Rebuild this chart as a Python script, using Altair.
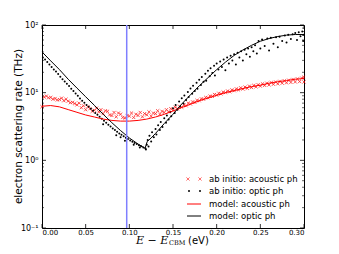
import altair as alt
import pandas as pd

W, H = 262, 203

# ---------------- data ----------------
x_ticks = [0.00, 0.05, 0.10, 0.15, 0.20, 0.25, 0.30]
y_major = [0.1, 1, 10, 100]
y_labels = ["10⁻¹", "10⁰", "10¹", "10²"]
y_minor = [0.2, 0.3, 0.4, 0.5, 0.6, 0.7, 0.8, 0.9,
           2, 3, 4, 5, 6, 7, 8, 9,
           20, 30, 40, 50, 60, 70, 80, 90]
cbm_E = [0.097]

# ab initio acoustic (two interleaved rows of points)
ac_a_E = [0.000, 0.005, 0.010, 0.015, 0.020, 0.025, 0.030, 0.035, 0.040, 0.045,
          0.050, 0.055, 0.060, 0.065, 0.070, 0.075, 0.080, 0.085, 0.090, 0.095,
          0.100, 0.105, 0.110, 0.115, 0.120, 0.125, 0.130, 0.135, 0.140, 0.145,
          0.150, 0.155, 0.160, 0.165, 0.170, 0.175, 0.180, 0.185, 0.190, 0.195,
          0.200, 0.205, 0.210, 0.215, 0.220, 0.225, 0.230, 0.235, 0.240, 0.245,
          0.250, 0.255, 0.260, 0.265, 0.270, 0.275, 0.280, 0.285, 0.290, 0.295, 0.300]
ac_a_v = [6.2, 8.9, 8.5, 8.2, 7.9, 7.6, 7.5, 7.2, 6.6, 6.0,
          5.6, 5.8, 5.5, 5.2, 4.9, 5.3, 4.6, 4.4, 4.8, 4.2,
          4.5, 4.3, 4.6, 4.4, 4.7, 4.5, 4.9, 4.8, 5.1, 5.2,
          5.5, 5.8, 6.1, 6.4, 6.8, 7.2, 7.6, 8.0, 8.4, 8.8,
          9.2, 9.6, 10.0, 10.3, 10.7, 11.0, 11.3, 11.6, 11.9, 12.2,
          12.5, 12.8, 13.0, 13.3, 13.5, 13.8, 14.0, 14.2, 14.4, 14.6, 14.4]
ac_b_E = [0.0025, 0.0075, 0.0125, 0.0175, 0.0225, 0.0275, 0.0325, 0.0375, 0.0425, 0.0475,
          0.0525, 0.0575, 0.0625, 0.0675, 0.0725, 0.0775, 0.0825, 0.0875, 0.0925, 0.0975,
          0.1025, 0.1075, 0.1125, 0.1175, 0.1225, 0.1275, 0.1325, 0.1375, 0.1425, 0.1475,
          0.1525, 0.1575, 0.1625, 0.1675, 0.1725, 0.1775, 0.1825, 0.1875, 0.1925, 0.1975,
          0.2025, 0.2075, 0.2125, 0.2175, 0.2225, 0.2275, 0.2325, 0.2375, 0.2425, 0.2475,
          0.2525, 0.2575, 0.2625, 0.2675, 0.2725, 0.2775, 0.2825, 0.2875, 0.2925, 0.2975, 0.2995]
ac_b_v = [8.6, 8.4, 8.0, 7.8, 8.3, 8.0, 7.1, 6.9, 7.0, 6.4,
          6.2, 5.3, 5.9, 5.6, 5.4, 4.7, 5.1, 5.0, 4.3, 4.6,
          5.0, 4.8, 5.1, 4.9, 5.2, 5.0, 5.4, 5.3, 5.6, 5.8,
          6.1, 6.3, 6.6, 7.0, 7.3, 7.7, 8.1, 8.5, 8.9, 9.4,
          9.8, 10.2, 10.6, 11.0, 11.4, 11.8, 12.1, 12.5, 12.8, 13.1,
          13.5, 13.8, 14.1, 14.4, 14.7, 15.0, 15.3, 15.7, 16.0, 16.4, 17.0]

# ab initio optic
op_E = [0.001, 0.0035, 0.006, 0.0085, 0.011, 0.0135, 0.016, 0.0185, 0.021, 0.0235,
        0.026, 0.0285, 0.031, 0.0335, 0.036, 0.0385, 0.041, 0.0435, 0.046, 0.0485,
        0.051, 0.0535, 0.056, 0.0585, 0.061, 0.0635, 0.066, 0.0685, 0.071, 0.0735,
        0.076, 0.0785, 0.081, 0.0835, 0.086, 0.0885, 0.091, 0.0935, 0.096, 0.0985,
        0.101, 0.1035, 0.106, 0.1085, 0.111, 0.1135, 0.116, 0.1185,
        0.070, 0.085, 0.090, 0.095, 0.105, 0.112,
        0.119, 0.120, 0.121, 0.122, 0.123, 0.125, 0.126, 0.128, 0.130, 0.131,
        0.133, 0.135, 0.136, 0.138, 0.140, 0.142, 0.143, 0.145, 0.147, 0.148,
        0.150, 0.152, 0.153, 0.155, 0.157, 0.158, 0.160, 0.162, 0.163, 0.165,
        0.167, 0.168, 0.170, 0.172, 0.173, 0.175, 0.177, 0.178, 0.180, 0.182,
        0.183, 0.185, 0.187, 0.188, 0.190, 0.192, 0.193, 0.195, 0.197, 0.198,
        0.200, 0.202, 0.204, 0.206, 0.208, 0.210, 0.212, 0.214, 0.216, 0.218,
        0.220, 0.222, 0.224, 0.226, 0.228, 0.230, 0.232, 0.234, 0.236, 0.238,
        0.240, 0.242, 0.244, 0.246, 0.248, 0.250, 0.252, 0.255, 0.258, 0.260,
        0.262, 0.265, 0.268, 0.270, 0.272, 0.275, 0.278, 0.280, 0.282, 0.285,
        0.287, 0.290, 0.292, 0.294, 0.296, 0.298, 0.300, 0.299]
op_v = [33, 31, 28.5, 26, 24, 22, 20.5, 18.8, 17.2, 15.8,
        14.6, 13.5, 12.5, 11.4, 10.6, 9.7, 9.0, 8.2, 7.6, 7.1,
        6.6, 6.2, 5.8, 5.4, 5.0, 4.7, 4.4, 4.1, 3.85, 3.6,
        3.35, 3.15, 2.95, 2.8, 2.65, 2.5, 2.38, 2.27, 2.16, 2.06,
        1.97, 1.89, 1.81, 1.74, 1.67, 1.61, 1.55, 1.49,
        3.4, 2.35, 2.2, 1.95, 1.7, 1.55,
        1.45, 1.7, 2.0, 1.6, 2.3, 1.9, 2.6, 2.2, 2.9, 2.4,
        3.3, 2.8, 3.7, 3.1, 4.2, 3.6, 4.6, 4.0, 5.2, 4.5,
        5.9, 5.0, 6.6, 5.6, 7.4, 6.2, 8.3, 6.9, 9.1, 7.8,
        10.2, 8.6, 11.5, 9.6, 12.6, 10.6, 14.0, 11.4, 15.5, 13.0,
        17.0, 14.5, 19.0, 15.0, 21.0, 17.5, 23.0, 19.5, 25.0, 18.0,
        27.0, 22.0, 29.0, 24.0, 31.0, 21.5, 33.0, 27.0, 35.0, 30.0,
        37.0, 26.0, 39.0, 33.0, 41.0, 30.0, 43.0, 37.0, 45.0, 34.0,
        47.0, 41.0, 50.0, 38.0, 58.0, 45.0, 61.0, 49.0, 63.0, 42.0,
        65.0, 53.0, 66.0, 47.0, 67.0, 58.0, 70.0, 55.0, 72.0, 62.0,
        73.0, 76.0, 60.0, 78.0, 68.0, 80.0, 72.0, 58.0]

# model curves
mac_E = [0.00, 0.01, 0.02, 0.03, 0.04, 0.05, 0.06, 0.07, 0.08, 0.09,
         0.10, 0.11, 0.12, 0.13, 0.14, 0.15, 0.16, 0.17, 0.18, 0.19,
         0.20, 0.21, 0.22, 0.23, 0.24, 0.25, 0.26, 0.27, 0.28, 0.29, 0.30]
mac_v = [6.3, 6.45, 6.17, 5.62, 5.13, 4.68, 4.37, 4.07, 3.89, 3.80,
         3.80, 3.89, 4.07, 4.37, 4.79, 5.37, 6.03, 6.76, 7.59, 8.32,
         9.12, 10.0, 10.7, 11.5, 12.3, 12.9, 13.8, 14.5, 15.1, 15.8, 16.2]
mop_E = [0.000, 0.010, 0.020, 0.030, 0.040, 0.050, 0.060, 0.070, 0.080, 0.090,
         0.100, 0.110, 0.118, 0.1205, 0.125, 0.130, 0.140, 0.150, 0.160, 0.170,
         0.180, 0.190, 0.200, 0.210, 0.220, 0.230, 0.240, 0.250, 0.260, 0.270,
         0.280, 0.290, 0.300]
mop_v = [40, 29.5, 21.9, 15.8, 11.7, 8.7, 6.5, 4.8, 3.6, 2.75,
         2.14, 1.74, 1.51, 1.9, 2.14, 2.5, 3.5, 4.8, 6.8, 9.3,
         12.6, 16.6, 21.9, 28.2, 35.5, 42.7, 50.1, 57.5, 63.1, 67.6,
         70.8, 72.4, 72.4]

legend_labels = ["ab initio: acoustic ph", "ab initio: optic ph",
                 "model: acoustic ph", "model: optic ph"]

# ---------------- chart ----------------
FONT = "DejaVu Sans"
xs = alt.Scale(domain=[0, 0.3], nice=False, zero=False)
ys = alt.Scale(type="log", domain=[0.1, 100], nice=False)

label_expr = ("datum.value < 0.5 ? '%s' : datum.value < 5 ? '%s' : "
              "datum.value < 50 ? '%s' : '%s'") % tuple(y_labels)

x_axis = alt.Axis(values=x_ticks, format=".2f", title=None, ticks=False, domain=False,
                  grid=False, labelFontSize=7, labelPadding=0.5, labelColor="black",
                  labelFont=FONT)
y_axis = alt.Axis(values=y_major, labelExpr=label_expr, title=None, ticks=False,
                  domain=False, grid=False, labelFontSize=8, labelPadding=4,
                  labelColor="black", labelFont=FONT)


def X():
    return alt.X("E:Q", scale=xs, axis=x_axis)


def Y():
    return alt.Y("v:Q", scale=ys, axis=y_axis)


xpath = "M-1,-1L1,1M-1,1L1,-1"

ac_df = pd.DataFrame({"E": ac_a_E + ac_b_E, "v": ac_a_v + ac_b_v})
ac_pts = alt.Chart(ac_df).mark_point(
    shape=xpath, filled=False, color="#ff0000", size=10, strokeWidth=0.8, opacity=0.85
).encode(x=X(), y=Y())

op_df = pd.DataFrame({"E": op_E, "v": op_v})
op_pts = alt.Chart(op_df).mark_circle(color="black", size=4, opacity=1).encode(x=X(), y=Y())

mac_line = alt.Chart(pd.DataFrame({"E": mac_E, "v": mac_v})).mark_line(
    color="#ff0000", strokeWidth=1).encode(x=X(), y=Y())
mop_line = alt.Chart(pd.DataFrame({"E": mop_E, "v": mop_v})).mark_line(
    color="black", strokeWidth=1).encode(x=X(), y=Y())

vline = alt.Chart(pd.DataFrame({"E": cbm_E})).mark_rule(
    color="#7f7fff", strokeWidth=1.5).encode(x=X())

# inward ticks
xt_df = pd.DataFrame({"E": x_ticks})
ymaj_df = pd.DataFrame({"v": y_major})
ymin_df = pd.DataFrame({"v": y_minor})
tick_layers = [
    alt.Chart(xt_df).mark_rule(color="black", strokeWidth=0.8).encode(
        x=X(), y=alt.value(H), y2=alt.value(H - 4)),
    alt.Chart(xt_df).mark_rule(color="black", strokeWidth=0.8).encode(
        x=X(), y=alt.value(0), y2=alt.value(4)),
    alt.Chart(ymaj_df).mark_rule(color="black", strokeWidth=0.8).encode(
        y=Y(), x=alt.value(0), x2=alt.value(4)),
    alt.Chart(ymaj_df).mark_rule(color="black", strokeWidth=0.8).encode(
        y=Y(), x=alt.value(W), x2=alt.value(W - 4)),
    alt.Chart(ymin_df).mark_rule(color="black", strokeWidth=0.6).encode(
        y=Y(), x=alt.value(0), x2=alt.value(2)),
    alt.Chart(ymin_df).mark_rule(color="black", strokeWidth=0.6).encode(
        y=Y(), x=alt.value(W), x2=alt.value(W - 2)),
]

dummy = pd.DataFrame({"d": [0]})

# legend (manual, matplotlib style)
LX, LT = 145, 167
LY = [154, 166, 179, 191]
legend_layers = [
    alt.Chart(dummy).mark_point(shape=xpath, filled=False, color="#ff0000", size=10,
                                strokeWidth=0.8).encode(x=alt.value(LX + 1), y=alt.value(LY[0])),
    alt.Chart(dummy).mark_point(shape=xpath, filled=False, color="#ff0000", size=10,
                                strokeWidth=0.8).encode(x=alt.value(LX + 13), y=alt.value(LY[0])),
    alt.Chart(dummy).mark_circle(color="black", size=4, opacity=1).encode(
        x=alt.value(LX + 2), y=alt.value(LY[1])),
    alt.Chart(dummy).mark_circle(color="black", size=4, opacity=1).encode(
        x=alt.value(LX + 13), y=alt.value(LY[1])),
    alt.Chart(dummy).mark_rule(color="#ff0000", strokeWidth=1).encode(
        x=alt.value(LX), x2=alt.value(LX + 14), y=alt.value(LY[2])),
    alt.Chart(dummy).mark_rule(color="black", strokeWidth=1).encode(
        x=alt.value(LX), x2=alt.value(LX + 14), y=alt.value(LY[3])),
]
for lab, yy in zip(legend_labels, LY):
    legend_layers.append(
        alt.Chart(dummy).mark_text(align="left", baseline="middle", fontSize=8.5,
                                   font=FONT, color="black").encode(
            x=alt.value(LT), y=alt.value(yy), text=alt.value(lab)))

# axis titles
titles = [
    alt.Chart(dummy).mark_text(angle=270, align="center", baseline="middle",
                               fontSize=10.5, font=FONT, color="black").encode(
        x=alt.value(-23), y=alt.value(H / 2), text=alt.value("electron scattering rate (THz)")),
    alt.Chart(dummy).mark_text(align="left", baseline="alphabetic", fontSize=11,
                               font="DejaVu Serif", fontStyle="italic", color="black").encode(
        x=alt.value(94), y=alt.value(218.8), text=alt.value("E − E")),
    alt.Chart(dummy).mark_text(align="left", baseline="alphabetic", fontSize=6.5,
                               font="DejaVu Serif", color="black").encode(
        x=alt.value(127), y=alt.value(219.6), text=alt.value("CBM")),
    alt.Chart(dummy).mark_text(align="left", baseline="alphabetic", fontSize=10,
                               font=FONT, color="black").encode(
        x=alt.value(146), y=alt.value(218.8), text=alt.value("(eV)")),
]

chart = alt.layer(
    ac_pts, op_pts, mac_line, mop_line, vline, *tick_layers, *legend_layers, *titles
).properties(
    width=W, height=H,
    autosize=alt.AutoSizeParams(type="none"),
    padding={"left": 34, "top": 17, "right": 27, "bottom": 18},
    background="white",
).configure_view(stroke="black", strokeWidth=1)

chart.save("out.html", embed_options={"renderer": "svg", "actions": False})
